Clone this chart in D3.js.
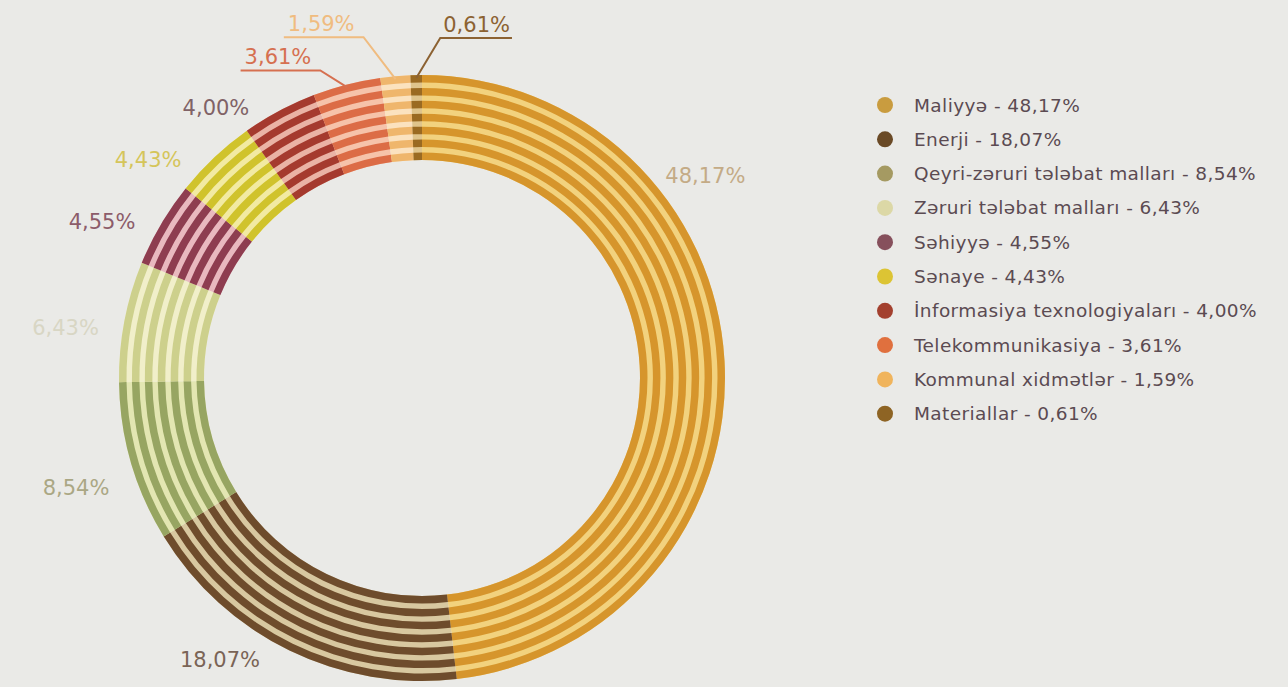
<!DOCTYPE html>
<html>
<head>
<meta charset="utf-8">
<script src="https://cdn.jsdelivr.net/npm/d3@7"></script>
<style>
  html, body { margin: 0; padding: 0; background: #eaeae7; }
  svg { display: block; }
</style>
</head>
<body>
<svg id="chart" width="1288" height="687"></svg>
<script>
// Sector breakdown of the portfolio, in percent
const categories = [
  "Maliyyə",
  "Enerji",
  "Qeyri-zəruri tələbat malları",
  "Zəruri tələbat malları",
  "Səhiyyə",
  "Sənaye",
  "İnformasiya texnologiyaları",
  "Telekommunikasiya",
  "Kommunal xidmətlər",
  "Materiallar"
];
const shares = [48.17, 18.07, 8.54, 6.43, 4.55, 4.43, 4.00, 3.61, 1.59, 0.61];

// Styling
const stripeColors = ["#d6952c", "#6e4c2c", "#97a562", "#cdd08c", "#8e3d50",
                      "#d0c32c", "#a53a2e", "#dc6c46", "#efb66c", "#9a6a22"];
const gapColors    = ["#f2d27e", "#d8c8a0", "#e3e6b2", "#f1efca", "#e9b9bf",
                      "#f2eaa2", "#eab3a5", "#f6c3aa", "#fbe2bf", "#dfc48c"];
const dotColors    = ["#c99c3f", "#6a4a26", "#a59a62", "#dcd8a6", "#86505c",
                      "#dcc434", "#a3402e", "#e0703e", "#f0b45c", "#8e6424"];
const labelColors  = ["#c4ab86", "#7a6456", "#aaa784", "#d8d6c4", "#8c5c6a",
                      "#d5c55a", "#806266", "#d67050", "#f0bc80", "#8c6232"];

// Label placement (polar, degrees clockwise from 12 o'clock) for the larger sectors
const labelAngleDeg = [54.5, 215.6, 252.4, 278, 296, 308.5, 322.7];
const labelRadius   = [348, 347, 363, 360, 356, 350, 340];
// Callout elbows for the three thin sectors: offset from the ring edge, underline side
const callouts = [
  { index: 7, dx: -27, dy: -17, side: "left" },
  { index: 8, dx: -32, dy: -42, side: "left" },
  { index: 9, dx: 24,  dy: -40, side: "right" }
];

const fmt = d3.formatLocale({ decimal: ",", thousands: " ", grouping: [3], currency: ["", ""] }).format(".2f");
const pct = v => fmt(v) + "%";

const svg = d3.select("#chart");
const cx = 422, cy = 378;
const rIn = 218, rOut = 303;
const nStripes = 7, stripeW = 7.5;
const pitch = (rOut - rIn - stripeW) / (nStripes - 1);

const pie = d3.pie().sort(null).value(d => d);
const arcs = pie(shares);

const ring = svg.append("g").attr("transform", `translate(${cx},${cy})`);

// light base of each sector (shows through between the stripes)
ring.selectAll("path.base")
  .data(arcs)
  .join("path")
  .attr("class", "base")
  .attr("d", d3.arc().innerRadius(rIn).outerRadius(rOut))
  .attr("fill", (d, i) => gapColors[i]);

// concentric coloured stripes
const stripeIdx = d3.range(nStripes);
arcs.forEach((a, i) => {
  ring.append("g")
    .selectAll("path")
    .data(stripeIdx)
    .join("path")
    .attr("d", k => d3.arc()
      .innerRadius(rIn + k * pitch)
      .outerRadius(rIn + k * pitch + stripeW)(a))
    .attr("fill", stripeColors[i]);
});

// value labels around the ring
const labelFont = "'DejaVu Sans', sans-serif";
labelAngleDeg.forEach((deg, i) => {
  const t = deg * Math.PI / 180;
  const r = labelRadius[i];
  ring.append("text")
    .attr("x", r * Math.sin(t))
    .attr("y", -r * Math.cos(t))
    .attr("text-anchor", "middle")
    .attr("dominant-baseline", "central")
    .attr("font-family", labelFont)
    .attr("font-size", 21)
    .attr("fill", labelColors[i])
    .text(pct(shares[i]));
});

// callouts for the thin sectors
const edgeArc = d3.arc().innerRadius(rOut - 3).outerRadius(rOut - 3);
callouts.forEach(c => {
  const a = arcs[c.index];
  const [px, py] = edgeArc.centroid(a);
  const ex = px + c.dx, ey = py + c.dy;
  const col = labelColors[c.index];
  const txt = ring.append("text")
    .attr("font-family", labelFont)
    .attr("font-size", 21)
    .attr("fill", col)
    .attr("y", ey - 6)
    .text(pct(shares[c.index]));
  const w = txt.node().getComputedTextLength();
  let x0, x1;
  if (c.side === "left") {
    txt.attr("text-anchor", "end").attr("x", ex - 9);
    x0 = ex - 9 - w - 4; x1 = ex;
  } else {
    txt.attr("text-anchor", "start").attr("x", ex + 3);
    x0 = ex; x1 = ex + 3 + w + 2;
  }
  ring.append("polyline")
    .attr("points", [[px, py], [ex, ey], [c.side === "left" ? x0 : x1, ey]].map(p => p.join(",")).join(" "))
    .attr("fill", "none")
    .attr("stroke", col)
    .attr("stroke-width", 2);
});

// legend
const legend = svg.append("g").attr("transform", "translate(885,105)");
const rowH = 34.3;
const rows = legend.selectAll("g")
  .data(categories)
  .join("g")
  .attr("transform", (d, i) => `translate(0,${i * rowH})`);
rows.append("circle")
  .attr("r", 8)
  .attr("fill", (d, i) => dotColors[i]);
rows.append("text")
  .attr("x", 29)
  .attr("dominant-baseline", "central")
  .attr("font-family", "'DejaVu Sans', sans-serif")
  .attr("font-size", 18.5)
  .attr("letter-spacing", 0.4)
  .attr("fill", "#5b4b52")
  .text((d, i) => `${d} - ${pct(shares[i])}`);
</script>
</body>
</html>
